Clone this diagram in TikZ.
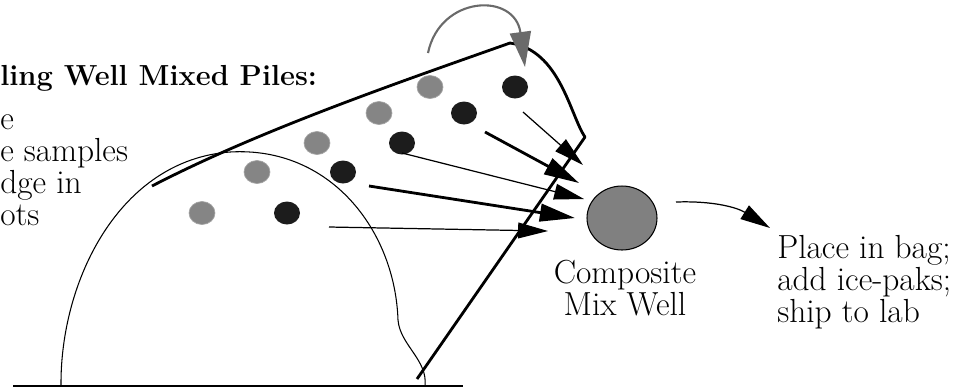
\documentclass[tikz,border=0pt]{standalone}
\usepackage{xcolor}
\usepackage{tikz}
\usetikzlibrary{positioning, arrows.meta, shapes.geometric}

\definecolor{dotgray}{HTML}{858585}
\definecolor{dotblack}{HTML}{1C1C1C}
\definecolor{wellgray}{HTML}{808080}
\definecolor{arrgray}{HTML}{6A6A6A}

\begin{document}
\begin{tikzpicture}[
  x=0.02cm, y=-0.02cm,
  txt/.style      = {font=\fontsize{19}{18.2}\selectfont,
                     inner sep=0pt, align=left},
  headtxt/.style  = {font=\fontsize{16.5}{18}\selectfont\bfseries,
                     inner sep=0pt},
  greydot/.style  = {ellipse, fill=dotgray, draw=dotgray!75,
                     minimum width=0.52cm, minimum height=0.46cm,
                     inner sep=0pt},
  blackdot/.style = {ellipse, fill=dotblack,
                     minimum width=0.52cm, minimum height=0.46cm,
                     inner sep=0pt},
  wellnode/.style = {ellipse, draw=black, fill=wellgray, line width=0.6pt,
                     minimum width=1.4cm, minimum height=1.28cm,
                     inner sep=0pt},
  ridge/.style    = {line width=1.6pt, line join=round},
  hill/.style     = {line width=0.6pt},
  thinarr/.style  = {-{Triangle[length=17pt,width=9pt]}, line width=0.7pt},
  thickarr/.style = {-{Triangle[length=20pt,width=10pt]}, line width=1.6pt},
  grayarr/.style  = {-{Triangle[length=20pt,width=12pt]}, draw=arrgray,
                     line width=1.2pt}
]
\useasboundingbox (0,0) rectangle (974,387);

%── Left text ────────────────────────────────────────────────────
\node[headtxt, anchor=base west] (head) at (0,85)
  {ling Well Mixed Piles:};
\node[txt, anchor=base west] (steps) at (0,225)
  {e\\e samples\\dge in\\ots};

%── Pile outline ─────────────────────────────────────────────────
\draw[hill] (13,386) -- (463,386);
\draw[hill] (61,386) .. controls (60,280) and (120,160) .. (230,152)
  .. controls (330,146) and (395,230) .. (398,320)
  .. controls (400,345) and (428,360) .. (425,386);
\draw[ridge] (152,186) .. controls (260,130) and (400,82) .. (510,43)
  .. controls (560,50) and (570,115) .. (585,137) -- (417,379);

%── Sample spots ─────────────────────────────────────────────────
\node[greydot]  (g1) at (202,213) {};
\node[greydot]  (g2) at (257,172) {};
\node[greydot]  (g3) at (317,143) {};
\node[greydot]  (g4) at (379,113) {};
\node[greydot]  (g5) at (430,87) {};
\node[blackdot] (b1) at (287,213) {};
\node[blackdot] (b2) at (343,172) {};
\node[blackdot] (b3) at (402,143) {};
\node[blackdot] (b4) at (464,113) {};
\node[blackdot] (b5) at (515,87) {};

%── Composite well ───────────────────────────────────────────────
\node[wellnode] (well) at (622,218) {};
\node[txt, align=center, anchor=base] (wellname) at (625,315)
  {Composite\\Mix Well};

\node[txt, anchor=base west] (ship) at (777,322)
  {Place in bag;\\add ice-paks;\\ship to lab};

%── Arrows ───────────────────────────────────────────────────────
\coordinate (s1) at (523,112);  \coordinate (t1) at (583,165);
\coordinate (s2) at (485,132);  \coordinate (t2) at (579,183);
\coordinate (s3) at (402,153);  \coordinate (t3) at (584,199);
\coordinate (s4) at (369,186);  \coordinate (t4) at (575,218);
\coordinate (s5) at (329,227);  \coordinate (t5) at (548,231);

\draw[thinarr]  (s1) -- (t1);
\draw[thickarr] (s2) -- (t2);
\draw[thinarr]  (s3) -- (t3);
\draw[thickarr] (s4) -- (t4);
\draw[thinarr]  (s5) -- (t5);

\coordinate (turnA) at (428,53);
\coordinate (turnB) at (525,67);
\draw[grayarr] (turnA) .. controls (440,-5) and (515,-8) .. (turnB);

\coordinate (wout) at (676,202);
\coordinate (shiptip) at (770,228);
\draw[thinarr] (wout) to[out=2, in=148] (shiptip);

\end{tikzpicture}
\end{document}
